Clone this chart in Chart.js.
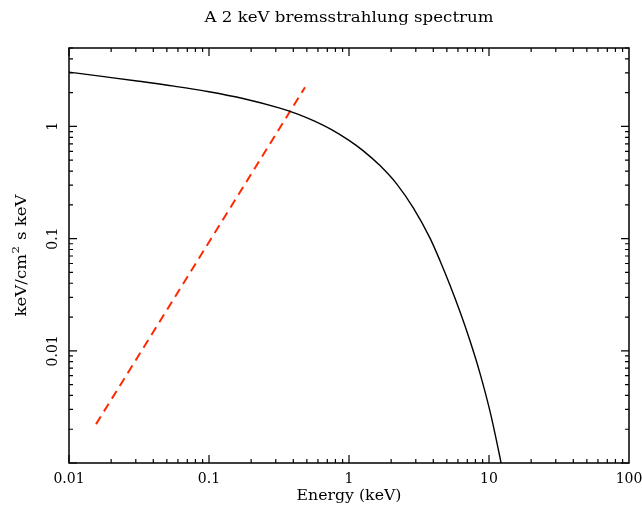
<!DOCTYPE html>
<html>
<head>
<meta charset="utf-8">
<script src="https://cdn.jsdelivr.net/npm/chart.js@4.4.1/dist/chart.umd.min.js"></script>
<style>
  body { margin: 0; background: #fff; }
  canvas { display: block; }
</style>
</head>
<body>
<canvas id="spec" width="642" height="510"></canvas>
<script>
// values
const energy = [0.01, 0.01778, 0.03162, 0.05623, 0.1, 0.1778, 0.3162, 0.4253, 0.5623, 0.756, 1.0, 1.259, 1.665, 2.203, 2.865, 3.79, 4.467, 5.266, 6.209, 7.316, 8.624, 10.17, 11.98, 12.8];
const flux   = [3.047, 2.778, 2.528, 2.285, 2.037, 1.764, 1.463, 1.296, 1.120, 0.931, 0.750, 0.609, 0.4475, 0.3047, 0.1896, 0.101, 0.0636, 0.03844, 0.0223, 0.01228, 0.0063, 0.00288, 0.00112, 0.00074];

const dashEnergy = [0.0156, 0.485];
const dashFlux   = [0.00222, 2.23];

const xTicks = [0.01, 0.1, 1, 10, 100];
const xTickLabels = ['0.01', '0.1', '1', '10', '100'];
const yTicks = [0.01, 0.1, 1];
const yTickLabels = ['0.01', '0.1', '1'];

const titleText = 'A 2 keV bremsstrahlung spectrum';
const xTitle = 'Energy (keV)';

const FONT = '"DejaVu Serif", "Liberation Serif", serif';

// draw text stretched to a given width
function stretchText(ctx, text, x, y, width) {
  const w = ctx.measureText(text).width;
  ctx.save();
  ctx.translate(x, y);
  ctx.scale(width / w, 1);
  ctx.fillText(text, 0, 0);
  ctx.restore();
}

// frame, inward ticks, labels
const framePlugin = {
  id: 'frame',
  afterDraw(chart) {
    const ctx = chart.ctx;
    const a = chart.chartArea;
    const xs = chart.scales.x, ys = chart.scales.y;
    ctx.save();
    ctx.strokeStyle = '#000';
    ctx.lineWidth = 1.5;
    ctx.strokeRect(a.left, a.top, a.right - a.left, a.bottom - a.top);

    ctx.lineWidth = 1.2;
    ctx.beginPath();
    for (let d = -2; d < 2; d++) {
      for (let m = 1; m <= 9; m++) {
        const px = xs.getPixelForValue(m * Math.pow(10, d));
        const len = m === 1 ? 8 : 4;
        ctx.moveTo(px, a.bottom); ctx.lineTo(px, a.bottom - len);
        ctx.moveTo(px, a.top); ctx.lineTo(px, a.top + len);
      }
    }
    for (let d = -3; d < 1; d++) {
      for (let m = 1; m <= 9; m++) {
        const v = m * Math.pow(10, d);
        if (v < ys.min || v > ys.max) continue;
        const py = ys.getPixelForValue(v);
        const len = m === 1 ? 8 : 4;
        ctx.moveTo(a.left, py); ctx.lineTo(a.left + len, py);
        ctx.moveTo(a.right, py); ctx.lineTo(a.right - len, py);
      }
    }
    ctx.stroke();

    ctx.fillStyle = '#000';
    ctx.font = '14px ' + FONT;
    ctx.textAlign = 'center';
    ctx.textBaseline = 'middle';
    xTicks.forEach((v, i) => {
      ctx.fillText(xTickLabels[i], xs.getPixelForValue(v), a.bottom + 16);
    });
    yTicks.forEach((v, i) => {
      ctx.save();
      ctx.translate(a.left - 16, ys.getPixelForValue(v));
      ctx.rotate(-Math.PI / 2);
      ctx.fillText(yTickLabels[i], 0, 0);
      ctx.restore();
    });

    const cx = (a.left + a.right) / 2;
    const cy = (a.top + a.bottom) / 2;
    stretchText(ctx, xTitle, cx, a.bottom + 33, 105);

    // y title with superscript
    ctx.save();
    ctx.translate(22, cy);
    ctx.rotate(-Math.PI / 2);
    ctx.textAlign = 'left';
    const p1 = 'keV/cm', p3 = ' s keV';
    ctx.font = '14px ' + FONT;
    const w1 = ctx.measureText(p1).width, w3 = ctx.measureText(p3).width;
    ctx.font = '10px ' + FONT;
    const w2 = ctx.measureText('2').width + 1;
    const total = w1 + w2 + w3;
    ctx.scale(122 / total, 1);
    const x0 = -total / 2;
    ctx.font = '14px ' + FONT;
    ctx.fillText(p1, x0, 0);
    ctx.font = '10px ' + FONT;
    ctx.fillText('2', x0 + w1 + 0.5, -6);
    ctx.font = '14px ' + FONT;
    ctx.fillText(p3, x0 + w1 + w2, 0);
    ctx.restore();

    ctx.textAlign = 'center';
    ctx.font = '14px ' + FONT;
    stretchText(ctx, titleText, cx, 18, 289);
    ctx.restore();
  }
};

new Chart(document.getElementById('spec'), {
  type: 'line',
  data: {
    datasets: [
      {
        data: energy.map((e, i) => ({ x: e, y: flux[i] })),
        borderColor: '#000',
        borderWidth: 1.4,
        pointRadius: 0,
        cubicInterpolationMode: 'monotone'
      },
      {
        data: dashEnergy.map((e, i) => ({ x: e, y: dashFlux[i] })),
        borderColor: 'rgb(255,40,0)',
        borderWidth: 2,
        borderDash: [9, 6],
        pointRadius: 0
      }
    ]
  },
  plugins: [framePlugin],
  options: {
    responsive: false,
    animation: false,
    devicePixelRatio: 1,
    layout: { padding: { left: 69, right: 13, top: 48, bottom: 47 } },
    plugins: { legend: { display: false }, tooltip: { enabled: false } },
    scales: {
      x: { type: 'logarithmic', min: 0.01, max: 100, display: false },
      y: { type: 'logarithmic', min: 0.001, max: 5, display: false }
    }
  }
});
</script>
</body>
</html>
